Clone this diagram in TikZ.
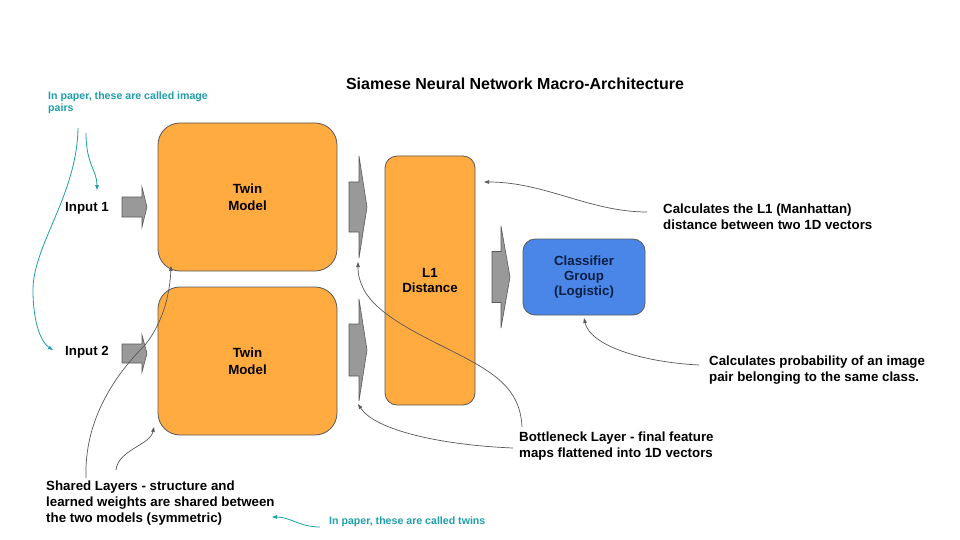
\documentclass[tikz,border=0pt]{standalone}
\usepackage{fontspec}
\setmainfont{Liberation Sans}
\usetikzlibrary{arrows.meta}
\definecolor{boxorange}{HTML}{FFAB40}
\definecolor{boxblue}{HTML}{4A86E8}
\definecolor{edgegray}{HTML}{595959}
\definecolor{arrowgray}{HTML}{999999}
\definecolor{tealtext}{HTML}{1E9FAA}
\definecolor{navytext}{HTML}{0B1F45}
\newcommand\blockarrow[6]{%
  \draw[blockarrow] ({#1},{#4-#5}) -- ({#2},{#4-#5}) -- ({#2},{#4-#6}) -- ({#3},{#4})
    -- ({#2},{#4+#6}) -- ({#2},{#4+#5}) -- ({#1},{#4+#5}) -- cycle;}
\begin{document}
\begin{tikzpicture}[x=1pt,y=-1pt,
  blacktext/.style={font=\bfseries\fontsize{13.3}{16}\selectfont,text=black,inner sep=0pt},
  noteblack/.style={blacktext,align=left,anchor=north west},
  noteteal/.style={font=\bfseries\fontsize{10.6}{12.5}\selectfont,text=tealtext,inner sep=0pt,align=left},
  twinbox/.style={draw=edgegray,fill=boxorange,line width=0.8pt,rounded corners=22pt,
    minimum width=179pt,minimum height=148pt,inner sep=0pt,align=center,
    font=\bfseries\fontsize{13.3}{17}\selectfont},
  distbox/.style={draw=edgegray,fill=boxorange,line width=0.8pt,rounded corners=12pt,
    minimum width=90pt,minimum height=249pt,inner sep=0pt,align=center,
    font=\bfseries\fontsize{13.3}{15.5}\selectfont},
  clfbox/.style={draw=edgegray,fill=boxblue,line width=0.8pt,rounded corners=12pt,
    minimum width=122pt,minimum height=76pt,inner sep=0pt,align=center,text=navytext,
    font=\bfseries\fontsize{13.3}{15}\selectfont},
  blockarrow/.style={draw=edgegray,fill=arrowgray,line width=0.6pt,line join=miter},
  conn/.style={draw=edgegray,line width=0.7pt,-{Triangle[length=5pt,width=3.5pt]}},
  tealconn/.style={draw=tealtext,line width=0.8pt,-{Triangle[length=5pt,width=3.5pt]}}
]
\useasboundingbox (0,0) rectangle (960,540);
\fill[white] (0,0) rectangle (960,540);

% title
\node[font=\bfseries\fontsize{16}{19}\selectfont,inner sep=0pt] (title) at (515,84) {Siamese Neural Network Macro-Architecture};

% main boxes
\node[twinbox] (twin1) at (247.5,197) {Twin\\Model};
\node[twinbox] (twin2) at (247.5,361) {Twin\\Model};
\node[distbox] (l1) at (430,280.5) {L1\\Distance};
\node[clfbox] (clf) at (584,277) {Classifier\\Group\\(Logistic)};

% inputs
\node[blacktext] (in1) at (87,208) {Input 1};
\node[blacktext] (in2) at (87,352) {Input 2};

% block arrows
\blockarrow{122}{142}{147}{207}{10}{20}
\blockarrow{122}{142}{147}{353.5}{9.5}{18.5}
\blockarrow{349}{359}{367}{207}{25}{51}
\blockarrow{349}{359}{367}{350}{26}{51}
\blockarrow{492}{501}{510}{277}{25.5}{51}

% notes
\node[noteteal,anchor=north west] (capPairs) at (48,91.5) {In paper, these are called image\\pairs};
\node[noteteal,anchor=west] (capTwins) at (329,522) {In paper, these are called twins};
\node[noteblack] (noteL1) at (663,203.5) {Calculates the L1 (Manhattan)\\distance between two 1D vectors};
\node[noteblack] (noteProb) at (709,356) {Calculates probability of an image\\pair belonging to the same class.};
\node[noteblack] (noteBn) at (519,431.5) {Bottleneck Layer - final feature\\maps flattened into 1D vectors};
\node[noteblack] (noteShared) at (46,481) {Shared Layers - structure and\\learned weights are shared between\\the two models (symmetric)};

% connector end points
\coordinate (pairsA) at (86,133);
\coordinate (pairsAEnd) at (97,190);
\coordinate (pairsB) at (78,128);
\coordinate (pairsBMid) at (33,290);
\coordinate (pairsBEnd) at (53,350);
\coordinate (l1From) at (647,212);
\coordinate (l1To) at (484,182);
\coordinate (probFrom) at (699,365);
\coordinate (probTo) at (584,318);
\coordinate (bnFromA) at (522,427);
\coordinate (bnMidA) at (440,345);
\coordinate (bnToA) at (358,262);
\coordinate (bnFromB) at (513,448);
\coordinate (bnToB) at (358,404);
\coordinate (shFromA) at (86,478);
\coordinate (shMidA) at (145,345);
\coordinate (shToA) at (171,266);
\coordinate (shFromB) at (116,470);
\coordinate (shToB) at (154,427);
\coordinate (twFrom) at (320,527);
\coordinate (twTo) at (272,517);

% connectors
\draw[tealconn] (pairsA) .. controls (86,165) and (97,170) .. (pairsAEnd);
\draw[tealconn] (pairsB) .. controls (77,195) and (33,245) .. (pairsBMid)
  .. controls (33,325) and (42,343) .. (pairsBEnd);
\draw[tealconn] (twFrom) .. controls (300,527) and (290,517) .. (twTo);
\draw[conn] (l1From) .. controls (590,212) and (545,182) .. (l1To);
\draw[conn] (probFrom) .. controls (640,362) and (590,345) .. (probTo);
\draw[conn] (bnFromA) .. controls (520,385) and (490,370) .. (bnMidA)
  .. controls (390,320) and (358,300) .. (bnToA);
\draw[conn] (bnFromB) .. controls (440,445) and (375,430) .. (bnToB);
\draw[conn] (shFromA) .. controls (84,420) and (115,375) .. (shMidA)
  .. controls (165,320) and (170,290) .. (shToA);
\draw[conn] (shFromB) .. controls (118,450) and (150,445) .. (shToB);
\end{tikzpicture}
\end{document}
